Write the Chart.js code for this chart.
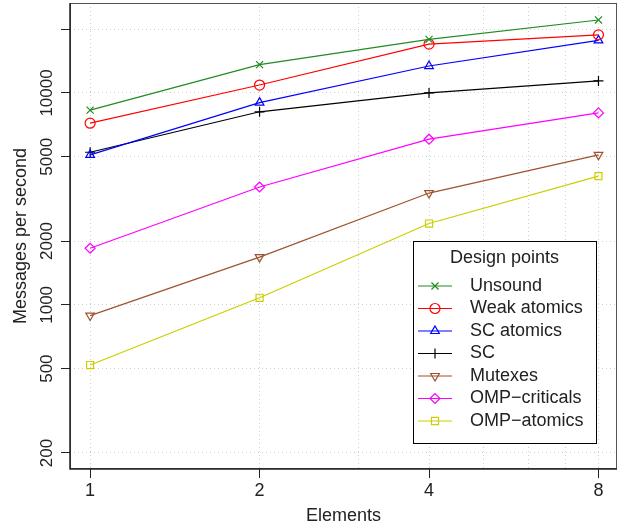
<!DOCTYPE html>
<html>
<head>
<meta charset="utf-8">
<script src="https://cdn.jsdelivr.net/npm/chart.js@4/dist/chart.umd.min.js"></script>
<style>
  body { margin: 0; background: #fff; }
  #wrap { width: 621px; height: 529px; }
</style>
</head>
<body>
<div id="wrap"><canvas id="chart" width="621" height="529"></canvas></div>
<script>
// values (log-log)
const elements = [1, 2, 4, 8];
const unsound = [8300, 13600, 17900, 22100];
const weakAtomics = [7200, 10900, 17000, 18800];
const scAtomics = [5100, 9000, 13400, 17700];
const sc = [5250, 8150, 10000, 11400];
const mutexes = [890, 1680, 3370, 5100];
const ompCriticals = [1850, 3600, 6050, 8050];
const ompAtomics = [520, 1080, 2420, 4050];

const xTickLabels = [1, 2, 4, 8];
const xGrid = [1, 2, 3, 4, 5, 6, 7, 8];
const yTicks = [200, 500, 1000, 2000, 5000, 10000, 20000];
const yTickLabels = ["200", "500", "1000", "2000", "5000", "10000", ""];

const seriesNames = ["Unsound", "Weak atomics", "SC atomics", "SC", "Mutexes", "OMP\u2212criticals", "OMP\u2212atomics"];
const seriesValues = [unsound, weakAtomics, scAtomics, sc, mutexes, ompCriticals, ompAtomics];
const seriesColors = ["#228B22", "#FF0000", "#0000FF", "#000000", "#A0522D", "#FF00FF", "#CDCD00"];
const seriesPoints = ["crossRot", "circle", "triangle", "cross", "triangle", "rectRot", "rect"];
const seriesRot = [0, 0, 0, 0, 180, 0, 0];

const FONT = "'Liberation Sans', Arial, sans-serif";

const datasets = seriesNames.map((name, i) => ({
  label: name,
  data: elements.map((x, j) => ({ x: x, y: seriesValues[i][j] })),
  borderColor: seriesColors[i],
  backgroundColor: "rgba(0,0,0,0)",
  pointBorderColor: seriesColors[i],
  pointBackgroundColor: "rgba(0,0,0,0)",
  borderWidth: 1.2,
  pointBorderWidth: 1.2,
  pointStyle: seriesPoints[i],
  pointRotation: seriesRot[i],
  pointRadius: 5,
  pointHoverRadius: 5,
  tension: 0,
  clip: false,
}));

function drawMarker(ctx, style, rot, x, y, color) {
  const opts = { pointStyle: style, rotation: rot, radius: 5, borderWidth: 1.2 };
  ctx.save();
  ctx.strokeStyle = color;
  ctx.fillStyle = "rgba(0,0,0,0)";
  ctx.lineWidth = 1.2;
  Chart.helpers.drawPoint(ctx, opts, x, y);
  ctx.restore();
}

const extras = {
  id: "extras",
  afterDraw(chart) {
    const ctx = chart.ctx;
    const a = chart.chartArea;
    const ys = chart.scales.y;

    // box around the plot
    ctx.save();
    ctx.strokeStyle = "#555";
    ctx.lineWidth = 1;
    ctx.strokeRect(a.left + 0.5, a.top + 0.5, a.right - a.left - 1, a.bottom - a.top - 1);
    ctx.strokeStyle = "#222";
    ctx.lineWidth = 1.5;
    ctx.beginPath();
    ctx.moveTo(a.left, a.top);
    ctx.lineTo(a.left, a.bottom);
    ctx.lineTo(a.right, a.bottom);
    ctx.stroke();

    // y tick labels, rotated like R
    ctx.fillStyle = "#222";
    ctx.font = "17px " + FONT;
    ctx.textAlign = "center";
    ctx.textBaseline = "middle";
    yTicks.forEach((v, i) => {
      if (!yTickLabels[i]) return;
      const py = ys.getPixelForValue(v);
      ctx.save();
      ctx.translate(47, py);
      ctx.rotate(-Math.PI / 2);
      ctx.fillText(yTickLabels[i], 0, 0);
      ctx.restore();
    });

    // axis titles
    ctx.font = "18px " + FONT;
    ctx.fillText("Elements", (a.left + a.right) / 2, 516);
    ctx.save();
    ctx.translate(21, (a.top + a.bottom) / 2);
    ctx.rotate(-Math.PI / 2);
    ctx.fillText("Messages per second", 0, 0);
    ctx.restore();

    // legend
    const lx = 413, ly = 241, lw = 183, lh = 202;
    ctx.fillStyle = "#fff";
    ctx.fillRect(lx, ly, lw, lh);
    ctx.strokeStyle = "#000";
    ctx.lineWidth = 1;
    ctx.strokeRect(lx + 0.5, ly + 0.5, lw, lh);
    ctx.fillStyle = "#222";
    ctx.font = "18px " + FONT;
    ctx.textAlign = "center";
    ctx.fillText("Design points", lx + lw / 2, 258);
    ctx.textAlign = "left";
    seriesNames.forEach((name, i) => {
      const ry = 286 + i * 22.5;
      ctx.strokeStyle = seriesColors[i];
      ctx.lineWidth = 1.2;
      ctx.beginPath();
      ctx.moveTo(418, ry);
      ctx.lineTo(452, ry);
      ctx.stroke();
      drawMarker(ctx, seriesPoints[i], seriesRot[i], 435, ry, seriesColors[i]);
      ctx.fillStyle = "#222";
      ctx.fillText(name, 470, ry);
    });
    ctx.restore();
  },
};

const config = {
  type: "line",
  data: { datasets: datasets },
  options: {
    responsive: false,
    animation: false,
    devicePixelRatio: 1,
    layout: { autoPadding: false, padding: { left: 0, right: 4, top: 3, bottom: 0 } },
    plugins: { legend: { display: false }, tooltip: { enabled: false } },
    scales: {
      x: {
        type: "logarithmic",
        min: 0.921,
        max: 8.63,
        afterBuildTicks: (s) => { s.ticks = xGrid.map((v) => ({ value: v })); },
        afterFit: (s) => { s.height = 60; },
        ticks: {
          autoSkip: false,
          maxRotation: 0,
          minRotation: 0,
          padding: 2,
          color: "#222",
          font: { family: FONT, size: 18 },
          callback: (v) => (xTickLabels.includes(v) ? String(v) : ""),
        },
        grid: {
          color: "#cfcfcf",
          lineWidth: 1,
          tickLength: 9,
          tickColor: (c) => (c.tick && xTickLabels.includes(c.tick.value) ? "#222" : "rgba(0,0,0,0)"),
          tickBorderDash: [],
          tickWidth: 1,
        },
        border: { display: false, dash: [1, 3] },
      },
      y: {
        type: "logarithmic",
        min: 168,
        max: 26580,
        afterBuildTicks: (s) => { s.ticks = yTicks.map((v) => ({ value: v })); },
        afterFit: (s) => { s.width = 70; },
        ticks: { display: false },
        grid: {
          color: "#cfcfcf",
          lineWidth: 1,
          tickLength: 9,
          tickColor: "#222",
          tickBorderDash: [],
          tickWidth: 1,
        },
        border: { display: false, dash: [1, 3] },
      },
    },
  },
  plugins: [extras],
};

let chart = new Chart(document.getElementById("chart"), config);
</script>
</body>
</html>
